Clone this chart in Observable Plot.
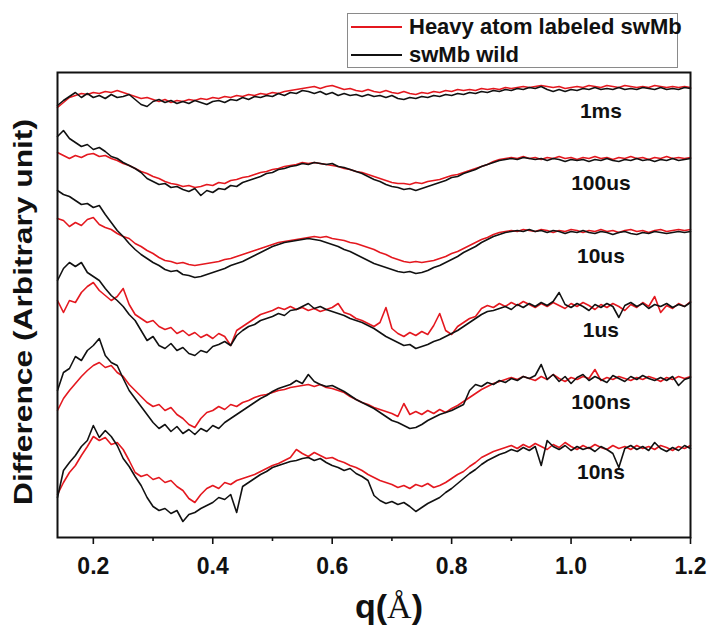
<!DOCTYPE html>
<html>
<head>
<meta charset="utf-8">
<script src="https://cdn.jsdelivr.net/npm/d3@7"></script>
<script src="https://cdn.jsdelivr.net/npm/@observablehq/plot@0.6"></script>
<style>
html, body { margin: 0; padding: 0; background: #fff; }
#wrap { position: relative; width: 711px; height: 628px; font-family: "Liberation Sans", Arial, sans-serif; overflow: hidden; }
#legendArea { position: relative; height: 62px; }
#legend { position: absolute; left: 347px; top: 13px; width: 329px; height: 53px; border: 1px solid #8a8a8a; background: #fff; z-index: 2; }
.row { position: absolute; left: 0; height: 26px; display: flex; align-items: center; }
.swatch { width: 51px; height: 0; border-top: 2px solid; margin-left: 3px; margin-right: 7px; }
.lab { font-weight: bold; font-size: 22px; color: #111; white-space: nowrap; }
#chart svg { display: block; }
#chart svg g[aria-label="x-axis tick label"] text { font-family: "Liberation Sans", Arial, sans-serif; font-size: 23px; font-weight: bold; fill: #111; }
#xtitle { height: 38px; line-height: 38px; padding-left: 355px; font-size: 34px; color: #111; margin-top: -3px; white-space: nowrap; }
#xtitle .b { font-family: "Liberation Sans", Arial, sans-serif; font-weight: bold; }
#xtitle .s { font-family: "Liberation Serif", "Times New Roman", serif; font-weight: normal; }
</style>
</head>
<body>
<div id="wrap">
  <div id="legendArea"><div id="legend"></div></div>
  <div id="chart"></div>
  <div id="xtitle"><span class="b">q(</span><span class="s">Å</span><span class="b">)</span></div>
</div>
<script>
// ---- data ----
const qGrid = [0.14,0.15,0.16,0.17,0.18,0.19,0.20,0.21,0.22,0.23,
0.24,0.25,0.26,0.27,0.28,0.29,0.30,0.31,0.32,0.33,
0.34,0.35,0.36,0.37,0.38,0.39,0.40,0.41,0.42,0.43,
0.44,0.45,0.46,0.47,0.48,0.49,0.50,0.51,0.52,0.53,
0.54,0.55,0.56,0.57,0.58,0.59,0.60,0.61,0.62,0.63,
0.64,0.65,0.66,0.67,0.68,0.69,0.70,0.71,0.72,0.73,
0.74,0.75,0.76,0.77,0.78,0.79,0.80,0.81,0.82,0.83,
0.84,0.85,0.86,0.87,0.88,0.89,0.90,0.91,0.92,0.93,
0.94,0.95,0.96,0.97,0.98,0.99,1.00,1.01,1.02,1.03,
1.04,1.05,1.06,1.07,1.08,1.09,1.10,1.11,1.12,1.13,
1.14,1.15,1.16,1.17,1.18,1.19,1.20];

const delays = ["1ms", "100us", "10us", "1us", "100ns", "10ns"];
const offsets = [450, 378, 305, 231, 159, 89];
const seriesNames = ["Heavy atom labeled swMb", "swMb wild"];
const seriesColors = ["#e4181f", "#111111"];
const xTicks = [0.2, 0.4, 0.6, 0.8, 1.0, 1.2];
const xTickLabels = ["0.2", "0.4", "0.6", "0.8", "1.0", "1.2"];
const xMinorTicks = [0.3, 0.5, 0.7, 0.9, 1.1];
const yTitle = "Difference (Arbitrary unit)";

const heavy_1ms = [-20,-15,-10,-8,-6,-7,-5,-6,-4,-5,
-3,-5,-7,-9,-11,-10,-12,-14,-12,-15,
-13,-14,-12,-13,-11,-12,-10,-11,-9,-10,
-8,-9,-7,-8,-6,-7,-5,-6,-4,-3,
-2,-1,0,1,-1,1,2,0,-2,-1,
-3,-4,-2,-4,-5,-3,-5,-6,-4,-6,
-7,-5,-6,-4,-5,-3,-4,-2,-3,-2,
-3,-1,-2,-1,-2,0,-1,0,1,0,
1,2,1,0,1,-1,0,1,0,2,
1,0,2,1,0,2,1,0,1,0,
2,1,0,1,0,1,0];
const wild_1ms = [-18,-13,-9,-5,-10,-6,-10,-8,-11,-7,
-10,-9,-7,-12,-17,-19,-14,-12,-15,-13,
-16,-14,-16,-13,-15,-17,-14,-13,-15,-12,
-13,-10,-12,-9,-10,-8,-9,-6,-8,-5,
-6,-3,-4,-6,-4,-7,-5,-8,-6,-8,
-7,-9,-7,-9,-8,-10,-8,-11,-12,-10,
-11,-9,-10,-8,-9,-7,-8,-6,-7,-5,
-6,-4,-5,-3,-4,-2,-3,-1,-2,0,
-1,1,-2,-4,-2,-4,-2,-3,-1,-2,
0,-2,-1,-2,0,-2,-1,-2,0,-1,
-2,0,-2,-1,-2,0,-1];

const heavy_100us = [7,4,1,4,2,5,6,3,4,1,
-1,-4,-6,-9,-12,-14,-17,-19,-22,-24,
-25,-27,-26,-28,-27,-25,-26,-23,-24,-21,
-20,-18,-17,-15,-13,-12,-10,-9,-7,-6,
-5,-3,-4,-3,-4,-5,-6,-7,-9,-10,
-12,-13,-15,-17,-19,-21,-23,-24,-24,-25,
-23,-24,-22,-21,-20,-18,-16,-15,-13,-11,
-9,-7,-5,-2,0,1,2,1,3,1,
2,0,2,1,3,1,2,0,2,1,
3,1,2,0,2,1,3,1,2,0,
2,1,3,1,2,1,2];
const wild_100us = [23,29,21,17,13,15,10,12,8,3,
1,-3,-6,-9,-13,-19,-22,-25,-24,-28,
-27,-30,-32,-29,-36,-31,-33,-29,-30,-26,
-27,-23,-21,-19,-17,-14,-13,-10,-9,-7,
-6,-4,-5,-3,-4,-5,-4,-7,-8,-10,
-12,-14,-17,-20,-22,-25,-27,-28,-30,-29,
-31,-29,-27,-25,-23,-21,-18,-17,-14,-12,
-10,-7,-5,-3,-1,0,1,0,2,1,
0,1,-1,1,0,-2,0,-1,0,-2,
0,-1,1,-1,-2,0,-1,1,-1,0,
-2,0,-1,1,-1,0,1];

const heavy_10us = [14,12,6,10,7,13,15,8,5,3,
-1,-4,-6,-11,-14,-18,-21,-25,-28,-29,
-31,-30,-32,-33,-32,-31,-30,-29,-27,-26,
-24,-22,-20,-18,-16,-14,-12,-10,-9,-8,
-7,-6,-5,-4,-5,-4,-6,-7,-8,-10,
-11,-13,-15,-17,-20,-22,-25,-27,-29,-30,
-29,-30,-29,-28,-26,-24,-21,-19,-16,-13,
-10,-7,-5,-2,0,1,2,1,3,2,
1,3,2,0,2,1,3,2,0,2,
1,3,1,2,0,2,3,1,2,0,
2,3,1,2,3,2,3];
const wild_10us = [42,38,36,32,28,29,25,27,18,10,
2,-4,-11,-17,-22,-26,-30,-33,-37,-39,
-38,-42,-43,-45,-44,-42,-40,-38,-36,-33,
-31,-29,-26,-23,-20,-17,-14,-12,-10,-9,
-8,-7,-6,-7,-8,-10,-12,-14,-17,-19,
-22,-25,-28,-31,-33,-35,-37,-39,-40,-39,
-41,-40,-38,-35,-33,-30,-27,-24,-20,-17,
-14,-10,-7,-4,-2,0,1,2,1,3,
1,2,0,2,1,-1,1,0,2,0,
-1,1,0,-2,0,1,-1,-2,0,-1,
1,0,-1,0,1,0,1];

const heavy_1us = [6,-6,6,4,14,20,24,16,11,6,
10,18,2,-8,-12,-16,-14,-20,-23,-21,
-27,-24,-29,-26,-31,-28,-32,-27,-30,-39,
-24,-20,-16,-12,-8,-6,-4,-1,-3,0,
-3,-1,-4,-2,-5,-3,-1,3,-6,-8,
-12,-14,-17,-20,-16,-1,-22,-27,-30,-26,
-29,-25,-28,-19,-7,-24,-28,-20,-16,-12,
-10,-2,1,-1,3,0,4,1,5,2,
-1,3,0,4,1,-2,3,0,4,1,
-3,2,-1,3,0,-4,2,-1,4,0,
10,-6,1,-2,3,0,5];
const wild_1us = [26,38,44,40,44,34,30,26,18,11,
6,0,-8,-14,-24,-34,-30,-39,-42,-37,
-44,-41,-47,-49,-44,-46,-40,-38,-35,-39,
-29,-24,-20,-18,-14,-12,-10,-7,-9,-4,
-3,0,3,-2,0,-3,-5,-7,-9,-12,
-14,-16,-19,-22,-26,-30,-33,-36,-39,-38,
-42,-40,-38,-35,-33,-30,-27,-24,-20,-16,
-12,-8,-5,-4,-2,0,-3,2,-1,3,
0,4,1,5,14,2,-1,3,0,-4,
2,-1,3,0,-11,1,4,0,3,-2,
2,0,3,-1,2,0,4];

const heavy_100ns = [-32,-20,-12,-5,2,8,13,16,11,13,
6,2,-6,-12,-18,-24,-28,-26,-32,-29,
-36,-40,-46,-49,-40,-34,-32,-28,-31,-26,
-28,-24,-22,-19,-17,-16,-14,-12,-11,-9,
-8,-7,-6,-8,-6,-9,-10,-12,-14,-18,
-21,-24,-26,-29,-31,-33,-35,-38,-25,-36,
-33,-36,-32,-35,-31,-34,-30,-27,-23,-19,
-15,-11,-8,-5,-3,-1,1,-1,2,0,
-2,2,-1,4,0,-3,1,-1,2,0,
9,-2,1,-1,2,0,-2,1,-1,2,
0,-3,1,-1,2,0,2];
const wild_100ns = [-12,6,10,22,18,28,33,40,23,16,
13,0,-12,-20,-28,-36,-44,-50,-46,-53,
-48,-55,-51,-56,-50,-53,-47,-50,-44,-40,
-36,-32,-28,-24,-20,-17,-13,-10,-8,-6,
-2,-5,4,-3,-6,-8,-7,-10,-13,-17,
-21,-24,-27,-30,-34,-38,-42,-44,-47,-50,
-49,-46,-42,-39,-36,-34,-32,-29,-26,-12,
-6,-8,-4,-6,-2,-4,0,-2,2,0,
3,14,-1,4,-3,2,-5,1,4,-2,
2,-1,-4,3,0,-3,2,-1,3,0,
-2,1,-2,2,-7,-1,1];

const heavy_10ns = [-46,-34,-24,-17,-7,2,12,8,11,4,
6,-1,-12,-24,-28,-26,-31,-29,-34,-32,
-38,-42,-50,-54,-46,-40,-37,-40,-34,-36,
-32,-30,-28,-26,-23,-20,-17,-15,-12,-9,
-1,-5,-8,-4,-7,-10,-9,-12,-14,-17,
-19,-22,-26,-29,-32,-34,-36,-39,-37,-40,
-36,-38,-35,-39,-37,-34,-30,-26,-23,-18,
-14,-9,-6,-3,-1,1,3,0,4,1,
5,2,-1,4,1,6,2,-1,3,0,
4,1,-1,3,0,2,-1,3,0,2,
-1,3,1,-2,2,0,3];
const wild_10ns = [-49,-22,-14,-7,2,8,23,11,18,12,
3,-10,-18,-28,-37,-49,-58,-62,-60,-65,
-62,-73,-66,-64,-60,-57,-54,-49,-51,-46,
-64,-38,-34,-30,-26,-23,-19,-17,-15,-13,
-12,-10,-9,-12,-10,-14,-17,-19,-22,-20,
-25,-28,-32,-47,-52,-55,-53,-56,-54,-58,
-63,-59,-55,-52,-49,-44,-40,-35,-30,-25,
-21,-16,-12,-9,-6,-4,-1,-3,1,-2,
2,-17,8,2,-1,3,-2,2,-1,1,
-3,2,-1,-5,-19,0,3,-1,2,-2,
6,0,-3,1,-2,3,0];

const heavySeries = [heavy_1ms, heavy_100us, heavy_10us, heavy_1us, heavy_100ns, heavy_10ns];
const wildSeries = [wild_1ms, wild_100us, wild_10us, wild_1us, wild_100ns, wild_10ns];

// ---- build rows ----
function toRows(seriesList) {
  const rows = [];
  seriesList.forEach((vals, k) => {
    vals.forEach((v, i) => rows.push({q: qGrid[i], v: offsets[k] + v, delay: delays[k]}));
  });
  return rows;
}
const heavyRows = toRows(heavySeries);
const wildRows = toRows(wildSeries);
const labelQ = 1.05;
const labelRows = delays.map((d, k) => ({label: d, q: labelQ, v: offsets[k] - 24}));

// ---- legend ----
const legend = document.getElementById("legend");
seriesNames.forEach((name, i) => {
  const row = document.createElement("div");
  row.className = "row";
  row.style.top = (i * 28) + "px";
  const sw = document.createElement("div");
  sw.className = "swatch";
  sw.style.borderTopColor = seriesColors[i];
  const lab = document.createElement("span");
  lab.className = "lab";
  lab.textContent = name;
  row.appendChild(sw); row.appendChild(lab);
  legend.appendChild(row);
});

// ---- chart ----
const chart = Plot.plot({
  width: 711,
  height: 528,
  marginTop: 10,
  marginBottom: 53,
  marginLeft: 57,
  marginRight: 21,
  style: {fontFamily: "Liberation Sans, Arial, sans-serif", background: "#fff", overflow: "visible"},
  x: {domain: [0.14, 1.2], label: null},
  y: {domain: [0, 465], axis: null},
  marks: [
    Plot.line(heavyRows, {x: "q", y: "v", z: "delay", stroke: seriesColors[0], strokeWidth: 1.6}),
    Plot.line(wildRows, {x: "q", y: "v", z: "delay", stroke: seriesColors[1], strokeWidth: 1.6}),
    Plot.text(labelRows, {x: "q", y: "v", text: "label", fontSize: 21, fontWeight: "bold", fill: "#111"}),
    Plot.frame({stroke: "#111", strokeWidth: 2}),
    Plot.axisX({ticks: xTicks, tickSize: 7, tickPadding: 13, strokeWidth: 1.6, stroke: "#111",
      tickFormat: d => xTickLabels[xTicks.indexOf(d)], label: null}),
    Plot.axisX({ticks: xMinorTicks, tickSize: 4, strokeWidth: 1.6, stroke: "#111", tickFormat: () => "", label: null}),
    Plot.text([yTitle], {frameAnchor: "left", rotate: -90, dx: -34, dy: 7, fontSize: 26, fontWeight: "bold",
      fill: "#111", textAnchor: "middle", lineAnchor: "middle"})
  ]
});
document.getElementById("chart").appendChild(chart);

// stretch the y title to match the reference's long rotated label
chart.querySelectorAll("text").forEach(t => {
  if (t.textContent === yTitle) {
    t.setAttribute("textLength", 386);
    t.setAttribute("lengthAdjust", "spacingAndGlyphs");
  }
});
</script>
</body>
</html>
